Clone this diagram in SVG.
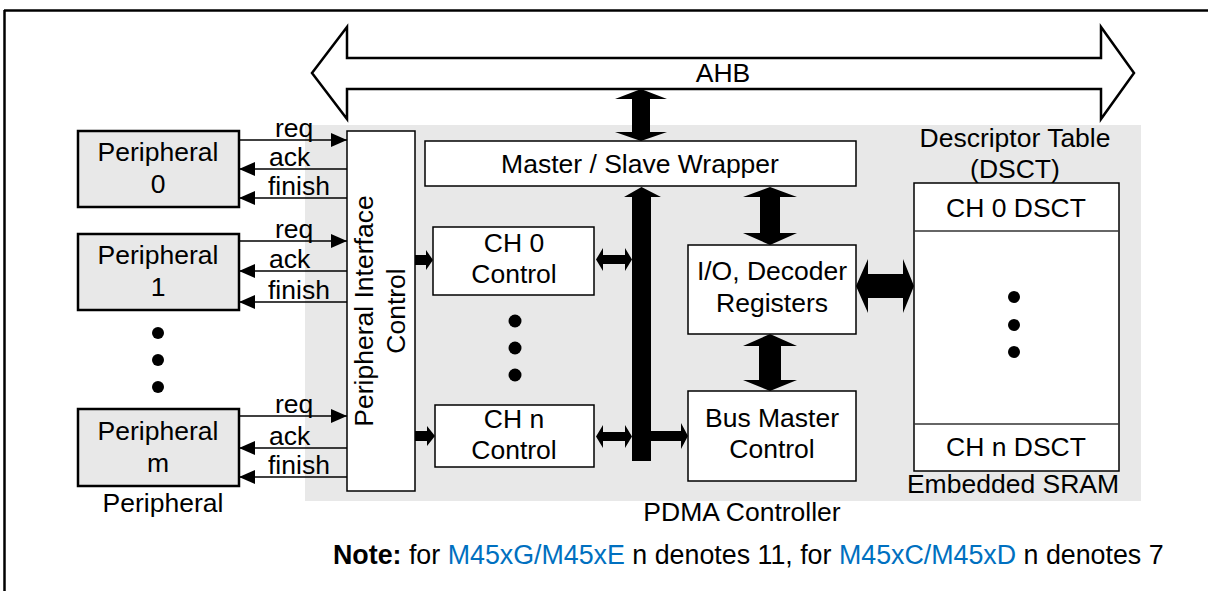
<svg xmlns="http://www.w3.org/2000/svg" width="1208" height="591" viewBox="0 0 1208 591">
<style>
text{font-family:"Liberation Sans",Arial,sans-serif;font-size:26.5px;fill:#000}
.c{text-anchor:middle}
.box{fill:#fff;stroke:#000;stroke-width:1.5}
.per{fill:#e8e8e8;stroke:#000;stroke-width:2.5}
.sig{stroke:#000;stroke-width:1.5;fill:none;marker-end:url(#ah)}
.fat{fill:#000;stroke:none}
.dot{fill:#000}
.blue{fill:#0070c0}
</style>
<defs>
<marker id="ah" markerUnits="userSpaceOnUse" markerWidth="16" markerHeight="14" refX="16" refY="7" orient="auto">
<path d="M0,0 L16,7 L0,14 z" fill="#000"/>
</marker>
</defs>
<rect width="1208" height="591" fill="#fff"/>
<g id="frame" stroke="#000" stroke-width="2.5" fill="none">
<line x1="4" y1="10.5" x2="1208" y2="10.5"/>
<line x1="4.5" y1="10" x2="4.5" y2="591"/>
</g>
<g id="pdma-bg"><rect x="305" y="125" width="836" height="376" fill="#e8e8e8"/></g>

<g id="ahb">
<polygon points="312,73 347,27 347,58 1101,58 1101,27 1134,73 1101,119 1101,89 347,89 347,119" fill="#fff" stroke="#000" stroke-width="2.5" stroke-linejoin="miter"/>
<text class="c" x="723" y="82">AHB</text>
</g>

<g id="peripheral0">
<rect class="per" x="78" y="131" width="161" height="76"/>
<text class="c" x="158" y="161">Peripheral</text>
<text class="c" x="158" y="193">0</text>
</g>
<g id="peripheral1">
<rect class="per" x="78" y="234" width="161" height="76"/>
<text class="c" x="158" y="264">Peripheral</text>
<text class="c" x="158" y="296">1</text>
</g>
<g id="peripheral-dots">
<circle class="dot" cx="158" cy="333" r="6"/>
<circle class="dot" cx="158" cy="360" r="6"/>
<circle class="dot" cx="158" cy="387" r="6"/>
</g>
<g id="peripheralm">
<rect class="per" x="78" y="409" width="161" height="77"/>
<text class="c" x="158" y="440">Peripheral</text>
<text class="c" x="158" y="472">m</text>
</g>
<g id="peripheral-label"><text class="c" x="163" y="512">Peripheral</text></g>

<g id="pic">
<rect class="box" x="347" y="131" width="68" height="360"/>
<text class="c" transform="translate(373,311) rotate(-90)">Peripheral Interface</text>
<text class="c" transform="translate(405,311) rotate(-90)">Control</text>
</g>

<g id="msw">
<rect class="box" x="425" y="141" width="431" height="45"/>
<text class="c" x="640" y="173">Master / Slave Wrapper</text>
</g>

<g id="ch0">
<rect class="box" x="433" y="227" width="161" height="68"/>
<text class="c" x="514" y="252">CH 0</text>
<text class="c" x="514" y="283">Control</text>
</g>
<g id="ch-dots">
<circle class="dot" cx="515" cy="321" r="6.5"/>
<circle class="dot" cx="515" cy="348" r="6.5"/>
<circle class="dot" cx="515" cy="375" r="6.5"/>
</g>
<g id="chn">
<rect class="box" x="435" y="405" width="159" height="62"/>
<text class="c" x="514" y="428">CH n</text>
<text class="c" x="514" y="459">Control</text>
</g>

<g id="io">
<rect class="box" x="688" y="245" width="168" height="89"/>
<text class="c" x="772" y="280">I/O, Decoder</text>
<text class="c" x="772" y="312">Registers</text>
</g>
<g id="bmc">
<rect class="box" x="688" y="391" width="168" height="90"/>
<text class="c" x="772" y="427">Bus Master</text>
<text class="c" x="772" y="458">Control</text>
</g>

<g id="dsct">
<text class="c" x="1015" y="147">Descriptor Table</text>
<text class="c" x="1015" y="178">(DSCT)</text>
<rect class="box" x="914" y="183" width="205" height="288" stroke="#333"/>
<line x1="914" y1="231" x2="1119" y2="231" stroke="#333" stroke-width="1.5"/>
<line x1="914" y1="424" x2="1119" y2="424" stroke="#333" stroke-width="1.5"/>
<text class="c" x="1016" y="217">CH 0 DSCT</text>
<circle class="dot" cx="1014" cy="297" r="6"/>
<circle class="dot" cx="1014" cy="325" r="6"/>
<circle class="dot" cx="1014" cy="352" r="6"/>
<text class="c" x="1016" y="456">CH n DSCT</text>
<text class="c" x="1013" y="493">Embedded SRAM</text>
</g>

<g id="pdma-label"><text class="c" x="742" y="521">PDMA Controller</text></g>

<g id="note">
<text x="333" y="564" style="font-size:26.8px"><tspan font-weight="bold">Note:</tspan> for <tspan class="blue">M45xG/M45xE</tspan> n denotes 11, for <tspan class="blue">M45xC/M45xD</tspan> n denotes 7</text>
</g>

<g id="connectors">
<line class="sig" x1="239" y1="140" x2="347" y2="140"/>
<line class="sig" x1="347" y1="169" x2="239" y2="169"/>
<line class="sig" x1="347" y1="198" x2="239" y2="198"/>
<line class="sig" x1="239" y1="241" x2="347" y2="241"/>
<line class="sig" x1="347" y1="271" x2="239" y2="271"/>
<line class="sig" x1="347" y1="302" x2="239" y2="302"/>
<line class="sig" x1="239" y1="416" x2="347" y2="416"/>
<line class="sig" x1="347" y1="448" x2="239" y2="448"/>
<line class="sig" x1="347" y1="477" x2="239" y2="477"/>
<g>
<text x="275" y="137">req</text>
<text x="269" y="166">ack</text>
<text x="268" y="195">finish</text>
<text x="275" y="238">req</text>
<text x="269" y="268">ack</text>
<text x="268" y="299">finish</text>
<text x="275" y="413">req</text>
<text x="269" y="445">ack</text>
<text x="268" y="474">finish</text>
</g>
<polygon class="fat" points="415,255 426,255 426,250 433,260 426,270 426,265 415,265"/>
<polygon class="fat" points="415,431 427,431 427,426 435,436 427,446 427,441 415,441"/>
<polygon class="fat" points="596,259.5 603,248 603,255 625,255 625,248 632,259.5 625,271 625,264 603,264 603,271"/>
<polygon class="fat" points="596,436.5 603,425 603,432 625,432 625,425 632,436.5 625,448 625,441 603,441 603,448"/>
<polygon class="fat" points="641.5,187 661,197 651,197 651,461 632,461 632,197 624,197"/>
<polygon class="fat" points="651,431 681,431 681,423 688,436 681,449 681,441 651,441"/>
<polygon class="fat" points="641,89 667,99 650,99 650,132 667,132 641,141 615,132 632,132 632,99 615,99"/>
<polygon class="fat" points="770,187 797,197 780,197 780,233 797,233 770,245 743,233 760,233 760,197 743,197"/>
<polygon class="fat" points="770,334 797,346 781,346 781,380 797,380 770,391 743,380 759,380 759,346 743,346"/>
<polygon class="fat" points="856,286 868,259 868,274 903,274 903,259 914,286 903,313 903,298 868,298 868,313"/>
</g>
</svg>
